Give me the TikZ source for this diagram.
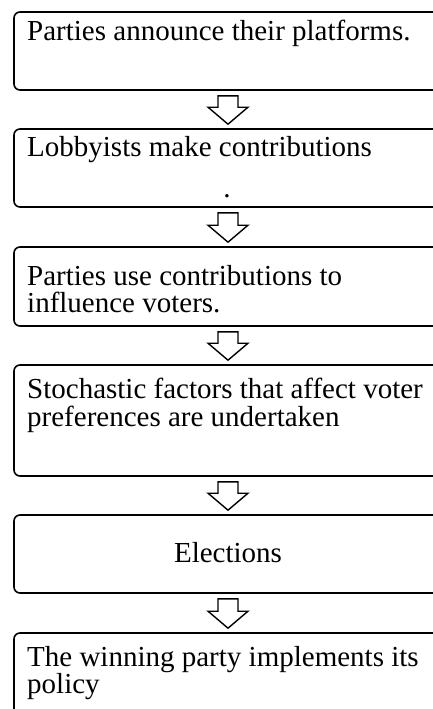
\documentclass[tikz,border=0pt]{standalone}
\usepackage{fontspec}
\setmainfont{Liberation Serif}
\usetikzlibrary{calc}
\tikzset{
  stepbox/.style={draw, line width=1.6pt, rounded corners=6pt, minimum width=428pt, inner sep=0pt},
  lbl/.style={inner sep=0pt, font=\fontsize{29}{30}\selectfont, align=left},
  blk/.style={draw, line width=1.4pt, fill=white, line join=miter}
}
\begin{document}
\begin{tikzpicture}[x=1pt,y=-1pt]
\useasboundingbox (0,0) rectangle (433,709);
% boxes
\node[stepbox, minimum height=78pt] (b1) at (228,51) {};
\node[stepbox, minimum height=78pt] (b2) at (228,168) {};
\node[stepbox, minimum height=79pt] (b3) at (228,286.5) {};
\node[stepbox, minimum height=111pt] (b4) at (228,420.5) {};
\node[stepbox, minimum height=78pt] (b5) at (228,554) {};
\node[stepbox, minimum height=110pt] (b6) at (228,688) {};
% texts
\node[lbl, anchor=base west] (t1) at (27,41) {Parties announce their platforms.};
\node[lbl, anchor=base west] (t2) at (27,156) {Lobbyists make contributions};
\node[lbl, anchor=base] (t2b) at (227,197) {.};
\node[lbl, anchor=base west] (t3) at (27,285) {Parties use contributions to};
\node[lbl, anchor=base west] (t3b) at (27,312) {influence voters.};
\node[lbl, anchor=base west] (t4) at (27,398) {Stochastic factors that affect voter};
\node[lbl, anchor=base west] (t4b) at (27,426) {preferences are undertaken};
\node[lbl, anchor=base] (t5) at (228,562) {Elections};
\node[lbl, anchor=base west] (t6) at (27,666) {The winning party implements its};
\node[lbl, anchor=base west] (t6b) at (27,693) {policy};
% block arrows
\foreach \a/\b in {b1/b2,b2/b3,b3/b4,b4/b5,b5/b6}{
  \path (\a.south) ++(0,5) coordinate (t);
  \path (\b.north) ++(0,-4) coordinate (p);
  \draw[blk] ($(t)+(-10,0)$) -- ($(p)+(-10,-17)$) -- ($(p)+(-20,-17)$) -- (p)
    -- ($(p)+(20,-17)$) -- ($(p)+(10,-17)$) -- ($(t)+(10,0)$) -- cycle;
}
\end{tikzpicture}
\end{document}
